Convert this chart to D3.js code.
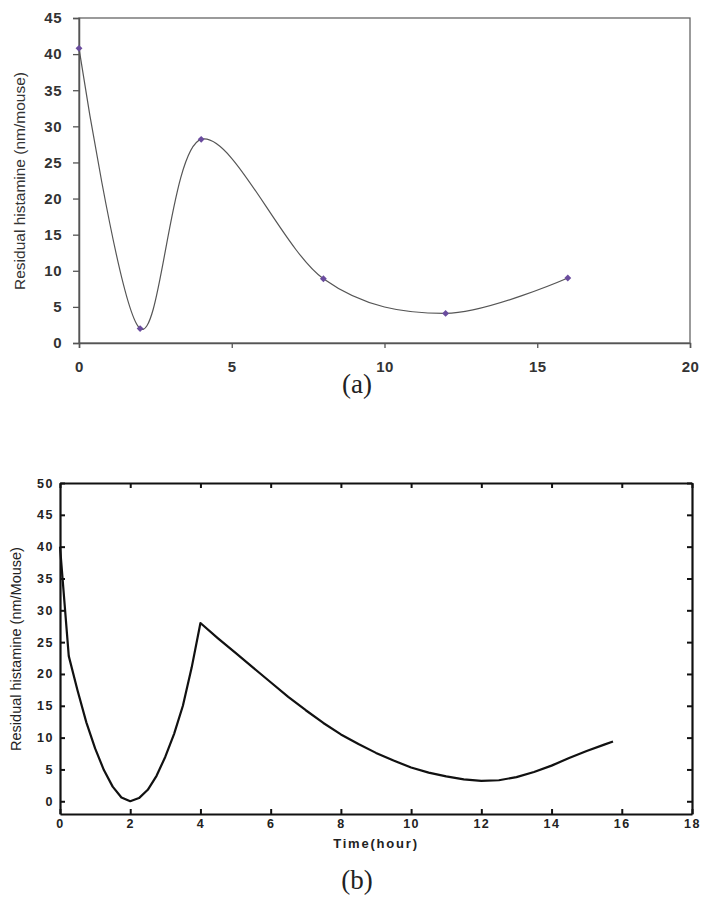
<!DOCTYPE html>
<html>
<head>
<meta charset="utf-8">
<script src="https://cdn.jsdelivr.net/npm/d3@7"></script>
<style>
  body { margin: 0; background: #fff; }
  svg { display: block; }
</style>
</head>
<body>
<svg width="712" height="903"></svg>
<script>
// (a) measured points, Excel smoothed line
var timeA = [0, 2, 4, 8, 12, 16];
var histA = [40.8, 2.0, 28.2, 8.9, 4.1, 9.0];
var xTicksA = [0, 5, 10, 15, 20];
var yTicksA = [0, 5, 10, 15, 20, 25, 30, 35, 40, 45];

// (b) simulated curve
var timeB = [0, 0.25, 0.5, 0.75, 1, 1.25, 1.5, 1.75, 2, 2.25, 2.5, 2.75, 3, 3.25, 3.5, 3.75, 4,
             4.5, 5, 5.5, 6, 6.5, 7, 7.5, 8, 8.5, 9, 9.5, 10, 10.5, 11, 11.5, 12,
             12.5, 13, 13.5, 14, 14.5, 15, 15.5, 15.75];
var histB = [40, 22.8, 17.4, 12.4, 8.3, 4.9, 2.3, 0.6, 0, 0.5, 1.8, 4.0, 7.0, 10.6, 15.0, 21.0, 28.0,
             25.6, 23.3, 21.0, 18.7, 16.4, 14.3, 12.3, 10.5, 9.0, 7.6, 6.4, 5.3, 4.5, 3.9, 3.45, 3.2,
             3.3, 3.8, 4.6, 5.6, 6.8, 7.9, 8.9, 9.4];
var xTicksB = [0, 2, 4, 6, 8, 10, 12, 14, 16, 18];
var yTicksB = [0, 5, 10, 15, 20, 25, 30, 35, 40, 45, 50];

var svg = d3.select("svg");
svg.append("rect").attr("width", 712).attr("height", 903).attr("fill", "#fff");

drawA();
drawB();

function drawA() {
    var x = d3.scaleLinear().domain([0, 20]).range([79, 690]);
    var y = d3.scaleLinear().domain([0, 45]).range([343, 18]);
    var g = svg.append("g").attr("class", "chart-a");

    // plot area box
    g.append("rect")
        .attr("x", x(0)).attr("y", y(45))
        .attr("width", x(20) - x(0)).attr("height", y(0) - y(45))
        .attr("fill", "none").attr("stroke", "#666").attr("stroke-width", 1.3);

    var xAxis = g.append("g")
        .attr("transform", "translate(0," + y(0) + ")")
        .call(d3.axisBottom(x).tickValues(xTicksA).tickSizeOuter(0).tickSize(5).tickPadding(13));
    var yAxis = g.append("g")
        .attr("transform", "translate(" + x(0) + ",0)")
        .call(d3.axisLeft(y).tickValues(yTicksA).tickSizeOuter(0).tickSize(6).tickPadding(11));

    [xAxis, yAxis].forEach((a) => {
        a.select(".domain").attr("stroke", "#555").attr("stroke-width", 1.5);
        a.selectAll(".tick line").attr("stroke", "#555").attr("stroke-width", 1.3);
        a.selectAll("text")
            .attr("fill", "#333")
            .style("font-family", "Arial, 'Liberation Sans', sans-serif")
            .style("font-size", "15px")
            .style("font-weight", "bold")
            .style("letter-spacing", "0.5px");
    });

    g.append("text")
        .attr("transform", "translate(19,181) rotate(-90)")
        .attr("text-anchor", "middle")
        .attr("dominant-baseline", "central")
        .attr("fill", "#333")
        .style("font-family", "Arial, 'Liberation Sans', sans-serif")
        .style("font-size", "15.5px")
        .text("Residual histamine (nm/mouse)");

    var pts = timeA.map((t, i) => [t, histA[i]]);
    var line = d3.line()
        .x((d) => x(d[0]))
        .y((d) => y(d[1]))
        .curve(d3.curveCardinal.tension(0));

    g.append("path")
        .attr("d", line(pts))
        .attr("fill", "none")
        .attr("stroke", "#555")
        .attr("stroke-width", 1.2);

    g.selectAll(".marker")
        .data(pts)
        .enter()
        .append("path")
        .attr("class", "marker")
        .attr("d", d3.symbol().type(d3.symbolDiamond2).size(30))
        .attr("transform", (d) => "translate(" + x(d[0]) + "," + y(d[1]) + ")")
        .attr("fill", "#6a4c9e");

    g.append("text")
        .attr("x", 357).attr("y", 393)
        .attr("text-anchor", "middle")
        .attr("fill", "#222")
        .style("font-family", "'Liberation Serif', 'Times New Roman', serif")
        .style("font-size", "27px")
        .text("(a)");
}

function drawB() {
    var x = d3.scaleLinear().domain([0, 18]).range([60, 692]);
    var y = d3.scaleLinear().domain([-2, 50]).range([814, 483]);
    var g = svg.append("g").attr("class", "chart-b");
    var font = "Arial, 'Liberation Sans', sans-serif";

    var bottom = g.append("g")
        .attr("transform", "translate(0," + y(-2) + ")")
        .call(d3.axisBottom(x).tickValues(xTicksB).tickSizeInner(-5).tickSizeOuter(0).tickPadding(5));
    var left = g.append("g")
        .attr("transform", "translate(" + x(0) + ",0)")
        .call(d3.axisLeft(y).tickValues(yTicksB).tickSizeInner(-5).tickSizeOuter(0).tickPadding(6));
    var top = g.append("g")
        .attr("transform", "translate(0," + y(50) + ")")
        .call(d3.axisTop(x).tickValues(xTicksB).tickSizeInner(-5).tickSizeOuter(0).tickFormat(""));
    var right = g.append("g")
        .attr("transform", "translate(" + x(18) + ",0)")
        .call(d3.axisRight(y).tickValues(yTicksB).tickSizeInner(-5).tickSizeOuter(0).tickFormat(""));

    [bottom, left, top, right].forEach((a) => {
        a.select(".domain").attr("stroke", "#111").attr("stroke-width", 2.2);
        a.selectAll(".tick line").attr("stroke", "#111").attr("stroke-width", 2);
        a.selectAll("text")
            .attr("fill", "#222")
            .style("font-family", font)
            .style("font-size", "12.5px")
            .style("font-weight", "bold")
            .style("letter-spacing", "1.5px");
    });

    g.append("text")
        .attr("x", 376).attr("y", 848)
        .attr("text-anchor", "middle")
        .attr("fill", "#222")
        .style("font-family", font)
        .style("font-size", "13px")
        .style("font-weight", "bold")
        .style("letter-spacing", "1.8px")
        .text("Time(hour)");

    g.append("text")
        .attr("transform", "translate(16,649) rotate(-90)")
        .attr("text-anchor", "middle")
        .attr("dominant-baseline", "central")
        .attr("fill", "#222")
        .style("font-family", font)
        .style("font-size", "14.5px")
        .text("Residual histamine (nm/Mouse)");

    var pts = timeB.map((t, i) => [t, histB[i]]);
    var line = d3.line()
        .x((d) => x(d[0]))
        .y((d) => y(d[1]));

    g.append("path")
        .attr("d", line(pts))
        .attr("fill", "none")
        .attr("stroke", "#111")
        .attr("stroke-width", 2.2)
        .attr("stroke-linejoin", "round");

    g.append("text")
        .attr("x", 357).attr("y", 889)
        .attr("text-anchor", "middle")
        .attr("fill", "#222")
        .style("font-family", "'Liberation Serif', 'Times New Roman', serif")
        .style("font-size", "27px")
        .text("(b)");
}
</script>
</body>
</html>
